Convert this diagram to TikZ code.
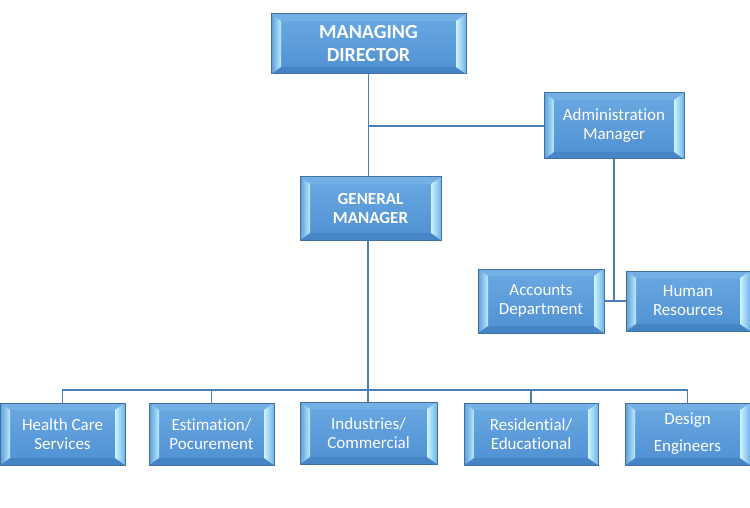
\documentclass[tikz,border=0pt]{standalone}
\usepackage{fontspec}
\setmainfont{Carlito}[Ligatures=NoCommon]
\usetikzlibrary{calc}
\definecolor{bordc}{HTML}{41719C}
\definecolor{faceT}{HTML}{6AA9E2}
\definecolor{faceB}{HTML}{4F90D2}
\definecolor{bevT}{HTML}{74B0E6}
\definecolor{bevB}{HTML}{4585C6}
\definecolor{bevLo}{HTML}{5C9CD9}
\definecolor{bevLi}{HTML}{BDEBFB}
\definecolor{bevRi}{HTML}{CFF4FD}
\definecolor{bevRo}{HTML}{6FB3E8}
\definecolor{linec}{HTML}{4A7EBB}
\tikzset{
  bev/.style={draw=bordc, line width=1pt, top color=faceT, bottom color=faceB,
    text=white, inner sep=0pt, align=center,
    font=\fontsize{17}{19}\selectfont,
    path picture={
      \path (path picture bounding box.north west) coordinate (pnw)
            (path picture bounding box.south east) coordinate (pse)
            (path picture bounding box.north east) coordinate (pne)
            (path picture bounding box.south west) coordinate (psw);
      \fill[bevT] (pnw) -- (pne) -- ($(pne)+(-10pt,-7pt)$) -- ($(pnw)+(10pt,-7pt)$) -- cycle;
      \fill[bevB] (psw) -- (pse) -- ($(pse)+(-10pt,7pt)$) -- ($(psw)+(10pt,7pt)$) -- cycle;
      \shade[left color=bevLo, right color=bevLi] (pnw) -- ($(pnw)+(10pt,-7pt)$) -- ($(psw)+(10pt,7pt)$) -- (psw) -- cycle;
      \shade[left color=bevRi, right color=bevRo] (pne) -- ($(pne)+(-10pt,-7pt)$) -- ($(pse)+(-10pt,7pt)$) -- (pse) -- cycle;
    }},
  conn/.style={draw=linec, line width=1.6pt},
  bold/.style={font=\fontsize{17}{19}\selectfont\bfseries}
}
\begin{document}
\begin{tikzpicture}[x=1pt,y=-1pt]
\useasboundingbox (0,0) rectangle (750,508);
\node[bev, minimum width=195pt, minimum height=60pt, font=\fontsize{20}{23}\selectfont\bfseries] (MD) at (368.5,44) {MANAGING\\DIRECTOR};
\node[bev, minimum width=140pt, minimum height=66pt] (AM) at (614,126) {Administration\\Manager};
\node[bev, bold, minimum width=141pt, minimum height=63pt] (GM) at (370.5,208.5) {GENERAL\\MANAGER};
\node[bev, minimum width=126pt, minimum height=64pt] (AD) at (541,301) {Accounts\\Department};
\node[bev, minimum width=124pt, minimum height=60pt] (HR) at (688,301) {Human\\Resources};
\node[bev, minimum width=125pt, minimum height=62pt] (HC) at (62.5,434) {Health Care\\Services};
\node[bev, minimum width=125pt, minimum height=62pt] (EP) at (211.5,434) {Estimation/\\Pocurement};
\node[bev, minimum width=137pt, minimum height=62pt] (IC) at (368.5,433) {Industries/\\Commercial};
\node[bev, minimum width=134pt, minimum height=62pt] (RE) at (531,434) {Residential/\\Educational};
\node[bev, minimum width=125pt, minimum height=62pt, font=\fontsize{17}{27}\selectfont] (DE) at (687.5,434) {Design\\Engineers};
\coordinate (bus) at (368,390);
\draw[conn] (MD.south) -- (MD.south |- GM.north);
\draw[conn] (MD.south |- AM.west) -- (AM.west);
\draw[conn] (AM.south) -- (AM.south |- AD.east);
\draw[conn] (AD.east) -- (HR.west);
\draw[conn] (GM.south -| bus) -- (bus);
\draw[conn] (HC.north) |- (bus) -| (DE.north);
\draw[conn] (EP.north) -- (EP.north |- bus);
\draw[conn] (IC.north -| bus) -- (bus);
\draw[conn] (RE.north) -- (RE.north |- bus);
\end{tikzpicture}
\end{document}
